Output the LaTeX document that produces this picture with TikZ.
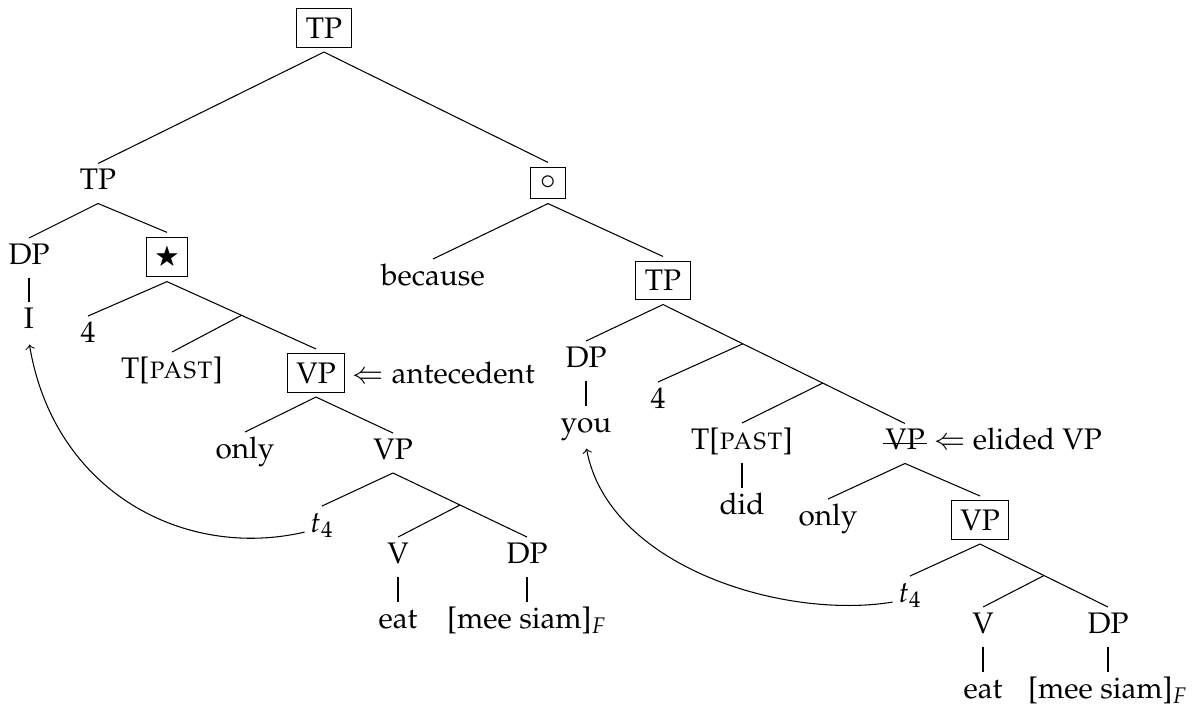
\documentclass[tikz,border=0pt,11pt]{standalone}
\usepackage[T1]{fontenc}
\usepackage{mathpazo}
\usepackage{amssymb}
\usepackage{tikz}
\usetikzlibrary{positioning, calc}
\tikzset{
    word/.style={inner sep=2pt, text height=1.5ex, text depth=.6ex},
    boxed/.style={draw, inner sep=3.4pt, outer sep=1.8pt},
    note/.style={word, inner sep=1pt},
    move/.style={->, shorten >=1pt}
}

\begin{document}
\begin{tikzpicture}[x=0.38pt, y=-0.38pt, every node/.style={font=\fontsize{11.3}{13.6}\selectfont}]
    \useasboundingbox (0,0) rectangle (1200,707);

    % Top level
    \node[boxed] (tpTop) at (324, 28) {TP};
    \node[word] (tpMain) at (98, 183.5) {TP};
    \node[boxed] (conj) at (548, 183) {$\circ$};

    % Main clause
    \node[word] (dpMain) at (29, 258) {DP};
    \node[word] (pronI) at (29, 322) {I};
    \node[boxed] (starL) at (167, 257) {\footnotesize$\bigstar$};
    \node[word] (numL) at (88, 336) {4};
    \node[word] (tL) at (172, 372) {T[\textsc{past}]};
    \node[boxed] (vpAnte) at (316, 373) {VP};
    \node[note, anchor=base west] (ante) at (vpAnte.base east) {$\Leftarrow$ antecedent};
    \node[word] (onlyL) at (245, 452) {only};
    \node[word] (vpL) at (393, 453) {VP};
    \node[word] (traceL) at (322, 526) {$t_4$};
    \node[word] (vL) at (398, 557) {V};
    \node[word] (dpObjL) at (527, 557) {DP};
    \node[word] (eatL) at (398, 622) {eat};
    \node[word] (objL) at (527, 622) {[mee siam]$_F$};

    % Because clause
    \node[word] (because) at (433, 279) {because};
    \node[boxed] (tpSub) at (663, 280.5) {TP};
    \node[word] (dpSub) at (586, 361) {DP};
    \node[word] (pronYou) at (586, 426) {you};
    \node[word] (numR) at (658, 402) {4};
    \node[word] (tR) at (742, 443) {T[\textsc{past}]};
    \node[word] (did) at (742, 508) {did};
    \node[word] (vpGone) at (905, 443.5) {VP};
    \node[note, right=0pt of vpGone] (elided) {$\Leftarrow$ elided VP};
    \node[word] (onlyR) at (828, 519) {only};
    \node[boxed] (vpR) at (980, 520) {VP};
    \node[word] (traceR) at (910, 596) {$t_4$};
    \node[word] (vR) at (983, 627) {V};
    \node[word] (dpObjR) at (1108, 627) {DP};
    \node[word] (eatR) at (983, 692) {eat};
    \node[word] (objR) at (1108, 692) {[mee siam]$_F$};

    % strike through the elided VP
    \draw ([xshift=1.5pt]vpGone.west) -- ([xshift=-1.5pt]vpGone.east);

    % Branch points
    \coordinate (brStar) at ($(starL.south)!.5!(vpAnte.north)$);
    \coordinate (brVL) at ($(vpL.south)!.5!(dpObjL.north)$);
    \coordinate (brTP1) at ($(tpSub.south)!.33!(vpGone.north)$);
    \coordinate (brTP2) at ($(tpSub.south)!.66!(vpGone.north)$);
    \coordinate (brVR) at ($(vpR.south)!.5!(dpObjR.north)$);

    % Connections
    \draw (tpTop.south) -- (tpMain.north); \draw (tpTop.south) -- (conj.north);
    \draw (tpMain.south) -- (dpMain.north); \draw (tpMain.south) -- (starL.north);
    \draw (dpMain) -- (pronI);
    \draw (starL.south) -- (numL.north); \draw (starL.south) -- (vpAnte.north);
    \draw (brStar) -- (tL.north);
    \draw (vpAnte.south) -- (onlyL.north); \draw (vpAnte.south) -- (vpL.north);
    \draw (vpL.south) -- (traceL.north); \draw (vpL.south) -- (dpObjL.north);
    \draw (brVL) -- (vL.north);
    \draw (vL) -- (eatL); \draw (dpObjL) -- (objL);

    \draw (conj.south) -- (because.north); \draw (conj.south) -- (tpSub.north);
    \draw (tpSub.south) -- (dpSub.north); \draw (tpSub.south) -- (vpGone.north);
    \draw (dpSub) -- (pronYou);
    \draw (brTP1) -- (numR.north); \draw (brTP2) -- (tR.north);
    \draw (tR) -- (did);
    \draw (vpGone.south) -- (onlyR.north); \draw (vpGone.south) -- (vpR.north);
    \draw (vpR.south) -- (traceR.north); \draw (vpR.south) -- (dpObjR.north);
    \draw (brVR) -- (vR.north);
    \draw (vR) -- (eatR); \draw (dpObjR) -- (objR);

    % Movement
    \draw[move] (traceL.base west) .. controls +(-120,28) and +(25,150) .. (pronI.south);
    \draw[move] (traceR.base west) .. controls +(-110,18) and +(22,120) .. (pronYou.south);
\end{tikzpicture}
\end{document}
